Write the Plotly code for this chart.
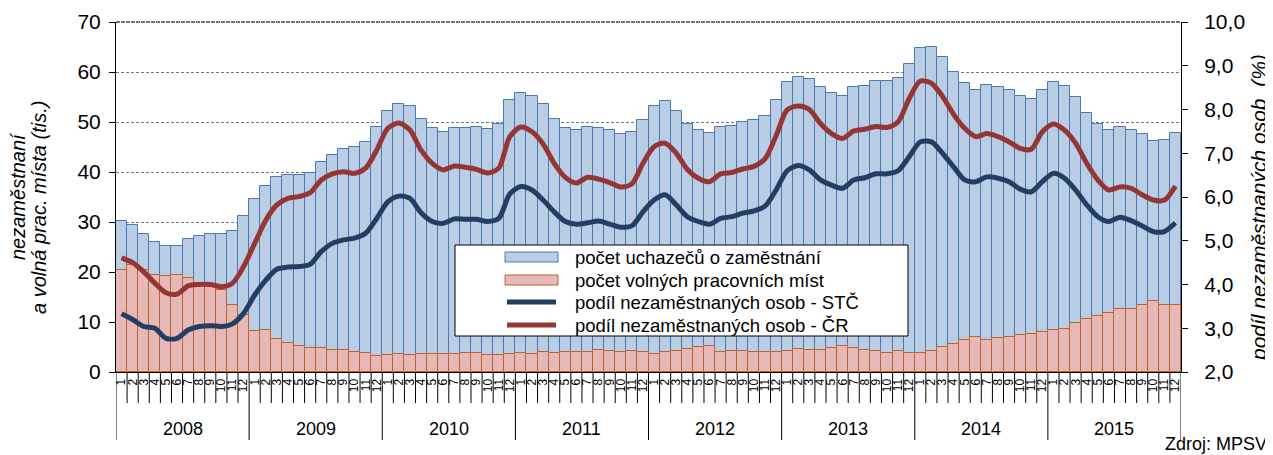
import plotly.graph_objects as go

# ---------------- data ----------------
years = ["2008", "2009", "2010", "2011", "2012", "2013", "2014", "2015"]
months = ["1", "2", "3", "4", "5", "6", "7", "8", "9", "10", "11", "12"]

# počet uchazečů o zaměstnání (tis.)
uchazeci = [
    30.3, 29.5, 27.7, 26.1, 25.3, 25.3, 26.7, 27.3, 27.7, 27.7, 28.3, 31.3,
    34.6, 37.2, 39.1, 39.4, 39.4, 39.9, 42.1, 43.5, 44.7, 45.1, 46.1, 49.1,
    52.3, 53.6, 53.2, 50.6, 48.8, 48.1, 48.9, 48.8, 49.1, 48.7, 49.6, 54.5,
    55.9, 55.3, 53.7, 50.7, 48.9, 48.4, 49.1, 48.9, 48.4, 47.7, 48.1, 50.5,
    53.2, 54.2, 52.3, 49.7, 48.5, 47.9, 49.1, 49.3, 50.1, 50.4, 51.3, 54.4,
    58.1, 59.0, 58.7, 57.1, 55.9, 55.3, 57.1, 57.3, 58.2, 58.3, 58.8, 61.6,
    64.9, 65.1, 63.1, 60.1, 57.9, 56.5, 57.4, 57.1, 56.5, 55.3, 54.7, 56.5,
    58.1, 57.2, 55.1, 51.9, 49.7, 48.5, 49.1, 48.5, 47.7, 46.3, 46.4, 47.9,
]
# počet volných pracovních míst (tis.)
volna_mista = [
    20.4, 21.4, 20.5, 19.4, 19.3, 19.5, 18.9, 17.9, 17.3, 16.4, 13.4, 11.4,
    8.2, 8.4, 6.6, 5.8, 5.3, 4.9, 4.9, 4.5, 4.4, 4.1, 3.8, 3.3,
    3.5, 3.6, 3.4, 3.6, 3.7, 3.7, 3.7, 3.9, 3.9, 3.5, 3.4, 3.6,
    3.9, 3.7, 4.0, 3.9, 4.1, 4.1, 4.1, 4.5, 4.3, 4.1, 4.3, 4.0,
    3.6, 4.0, 4.3, 4.7, 5.1, 5.2, 4.0, 4.3, 4.3, 4.1, 4.0, 4.0,
    4.2, 4.7, 4.5, 4.4, 4.9, 5.3, 4.9, 4.5, 4.3, 3.8, 4.2, 3.9,
    3.9, 4.3, 5.1, 5.7, 6.5, 7.1, 6.5, 6.9, 7.1, 7.5, 7.6, 8.1,
    8.4, 8.7, 9.9, 10.7, 11.3, 11.9, 12.7, 12.7, 13.5, 14.2, 13.5, 13.5,
]
# podíl nezaměstnaných osob - STČ (%)
podil_stc = [
    3.33, 3.20, 3.04, 3.00, 2.77, 2.77, 2.96, 3.04, 3.06, 3.04, 3.10, 3.34,
    3.76, 4.10, 4.35, 4.40, 4.41, 4.46, 4.75, 4.94, 5.02, 5.06, 5.17, 5.51,
    5.89, 6.02, 5.97, 5.64, 5.44, 5.40, 5.50, 5.49, 5.49, 5.44, 5.51, 6.07,
    6.24, 6.16, 5.93, 5.66, 5.44, 5.38, 5.41, 5.45, 5.38, 5.31, 5.34, 5.66,
    5.93, 6.05, 5.82, 5.55, 5.44, 5.38, 5.51, 5.55, 5.63, 5.68, 5.79, 6.16,
    6.60, 6.72, 6.62, 6.39, 6.27, 6.20, 6.39, 6.44, 6.53, 6.53, 6.60, 6.92,
    7.26, 7.26, 7.00, 6.69, 6.39, 6.35, 6.46, 6.43, 6.35, 6.18, 6.12, 6.35,
    6.54, 6.43, 6.16, 5.82, 5.55, 5.44, 5.54, 5.46, 5.34, 5.21, 5.21, 5.41,
]
# podíl nezaměstnaných osob - ČR (%)
podil_cr = [
    4.61, 4.50, 4.29, 4.03, 3.81, 3.78, 3.97, 4.00, 4.00, 3.95, 4.03, 4.41,
    4.94, 5.47, 5.82, 5.97, 6.01, 6.10, 6.39, 6.53, 6.58, 6.54, 6.66, 7.07,
    7.57, 7.69, 7.53, 7.07, 6.77, 6.62, 6.71, 6.68, 6.63, 6.55, 6.66, 7.38,
    7.60, 7.49, 7.21, 6.77, 6.45, 6.32, 6.45, 6.41, 6.33, 6.23, 6.30, 6.77,
    7.15, 7.23, 7.00, 6.63, 6.43, 6.35, 6.53, 6.56, 6.64, 6.70, 6.87, 7.40,
    7.99, 8.08, 8.00, 7.68, 7.45, 7.34, 7.51, 7.55, 7.61, 7.59, 7.72, 8.25,
    8.65, 8.60, 8.30, 7.89, 7.57, 7.38, 7.45, 7.38, 7.26, 7.11, 7.09, 7.49,
    7.67, 7.53, 7.23, 6.77, 6.39, 6.16, 6.23, 6.20, 6.05, 5.93, 5.93, 6.25,
]

series_names = [
    "počet uchazečů o zaměstnání",
    "počet volných pracovních míst",
    "podíl nezaměstnaných osob - STČ",
    "podíl nezaměstnaných osob - ČR",
]

# ---------------- styles ----------------
FONT = "Liberation Sans, Arial, sans-serif"
BLUE_FILL, BLUE_LINE = "rgb(185,205,229)", "rgb(74,120,180)"
PINK_FILL, PINK_LINE = "rgb(230,185,184)", "rgb(190,100,40)"
NAVY, DARKRED = "rgb(35,62,98)", "rgb(150,54,52)"

# page geometry (the html body adds an 8px margin around the figure)
OFF = 8
PAGE_W, PAGE_H = 1273, 455
PLOT_L, PLOT_R, PLOT_T, PLOT_B = 116, 1181, 22, 372   # plot area in page pixels
W, H = PAGE_W - OFF, PAGE_H - OFF
ML, MT = PLOT_L - OFF, PLOT_T - OFF
MR, MB = PAGE_W - PLOT_R, PAGE_H - PLOT_B
PW, PH = PLOT_R - PLOT_L, PLOT_B - PLOT_T


def px_x(px):
    return (px - PLOT_L) / PW


def px_y(py):
    return (PLOT_B - py) / PH


n = len(uchazeci)
x = list(range(n))
month_labels = [m for _ in years for m in months]

fig = go.Figure()
fig.add_trace(go.Bar(x=x, y=uchazeci, name=series_names[0], marker=dict(color=BLUE_FILL, line=dict(color=BLUE_LINE, width=1)), showlegend=False))
fig.add_trace(go.Bar(x=x, y=volna_mista, name=series_names[1], marker=dict(color=PINK_FILL, line=dict(color=PINK_LINE, width=1)), showlegend=False))
fig.add_trace(go.Scatter(x=x, y=podil_stc, name=series_names[2], yaxis="y2", mode="lines", line=dict(color=NAVY, width=5, shape="spline", smoothing=0.8), showlegend=False))
fig.add_trace(go.Scatter(x=x, y=podil_cr, name=series_names[3], yaxis="y2", mode="lines", line=dict(color=DARKRED, width=5, shape="spline", smoothing=0.8), showlegend=False))

shapes = []
# darker top border line at 70
shapes.append(dict(type="line", xref="paper", yref="paper", x0=0, x1=1, y0=1, y1=1,
                   line=dict(color="rgb(70,70,70)", width=1.5, dash="4px,1px"), layer="below"))
# month separators and year separators under the x axis
for i in range(n + 1):
    long = (i % len(months) == 0)
    shapes.append(dict(type="line", xref="x", yref="paper", x0=i - 0.5, x1=i - 0.5,
                       y0=0, y1=px_y(440) if long else px_y(403),
                       line=dict(color="black", width=1)))

annotations = []
for k, yr in enumerate(years):
    annotations.append(dict(x=k * len(months) + (len(months) - 1) / 2, xref="x", y=px_y(429), yref="paper",
                            text=yr, showarrow=False, font=dict(family=FONT, size=18, color="black"),
                            xanchor="center", yanchor="middle"))

# legend (drawn as a box with swatches)
shapes.append(dict(type="rect", xref="paper", yref="paper", x0=px_x(455), x1=px_x(908), y0=px_y(336), y1=px_y(245),
                   fillcolor="white", line=dict(color="black", width=1), layer="above"))
shapes.append(dict(type="rect", xref="paper", yref="paper", x0=px_x(505), x1=px_x(558), y0=px_y(262), y1=px_y(252),
                   fillcolor=BLUE_FILL, line=dict(color=BLUE_LINE, width=1), layer="above"))
shapes.append(dict(type="rect", xref="paper", yref="paper", x0=px_x(505), x1=px_x(558), y0=px_y(285), y1=px_y(275),
                   fillcolor=PINK_FILL, line=dict(color=PINK_LINE, width=1), layer="above"))
shapes.append(dict(type="line", xref="paper", yref="paper", x0=px_x(507), x1=px_x(556), y0=px_y(302), y1=px_y(302),
                   line=dict(color=NAVY, width=5), layer="above"))
shapes.append(dict(type="line", xref="paper", yref="paper", x0=px_x(507), x1=px_x(556), y0=px_y(325), y1=px_y(325),
                   line=dict(color=DARKRED, width=5), layer="above"))
for name, yy in zip(series_names, [257, 280, 302, 325]):
    annotations.append(dict(x=px_x(573), y=px_y(yy), xref="paper", yref="paper", text=name, showarrow=False,
                            xanchor="left", yanchor="middle", font=dict(family=FONT, size=18.5, color="black")))

# axis titles
annotations.append(dict(x=px_x(18), y=px_y(196), xref="paper", yref="paper", text="<i>nezaměstnaní</i>",
                        textangle=-90, showarrow=False, xanchor="center", yanchor="middle",
                        font=dict(family=FONT, size=20, color="black")))
annotations.append(dict(x=px_x(39), y=px_y(208), xref="paper", yref="paper", text="<i>a volná prac. místa (tis.)</i>",
                        textangle=-90, showarrow=False, xanchor="center", yanchor="middle",
                        font=dict(family=FONT, size=20, color="black")))
annotations.append(dict(x=px_x(1259), y=px_y(208), xref="paper", yref="paper", text="<i>podíl nezaměstnaných osob  (%)</i>",
                        textangle=-90, showarrow=False, xanchor="center", yanchor="middle",
                        font=dict(family=FONT, size=21, color="black")))
annotations.append(dict(x=px_x(1269), y=px_y(444), xref="paper", yref="paper", text="Zdroj: MPSV",
                        showarrow=False, xanchor="right", yanchor="middle",
                        font=dict(family=FONT, size=18, color="black")))

fig.update_layout(
    width=W, height=H, autosize=False,
    margin=dict(l=ML, r=MR, t=MT, b=MB, pad=0, autoexpand=False),
    paper_bgcolor="white", plot_bgcolor="white",
    barmode="overlay", bargap=0,
    separators=", ",
    font=dict(family=FONT, color="black"),
    showlegend=False,
    xaxis=dict(range=[-0.5, n - 0.5], tickmode="array", tickvals=x, ticktext=month_labels,
               tickangle=-90, tickfont=dict(family=FONT, size=12, color="black"),
               ticks="", showgrid=False, zeroline=False, showline=True, linecolor="black", linewidth=1,
               ticklabelstandoff=1, automargin=False),
    yaxis=dict(range=[0, 70], tickmode="linear", tick0=0, dtick=10,
               showgrid=True, gridcolor="rgb(120,120,120)", gridwidth=1, griddash="3px,2px",
               zeroline=False, showline=True, linecolor="black", linewidth=1,
               ticks="outside", ticklen=6, tickcolor="black",
               tickfont=dict(family=FONT, size=21, color="black"), ticklabelstandoff=4, automargin=False),
    yaxis2=dict(range=[2, 10], tickmode="linear", tick0=2, dtick=1, tickformat=".1f",
                overlaying="y", side="right", showgrid=False, zeroline=False,
                showline=True, linecolor="black", linewidth=1,
                ticks="outside", ticklen=6, tickcolor="black",
                tickfont=dict(family=FONT, size=21, color="black"), ticklabelstandoff=12, automargin=False),
    shapes=shapes, annotations=annotations,
)

fig.write_html("out.html")
